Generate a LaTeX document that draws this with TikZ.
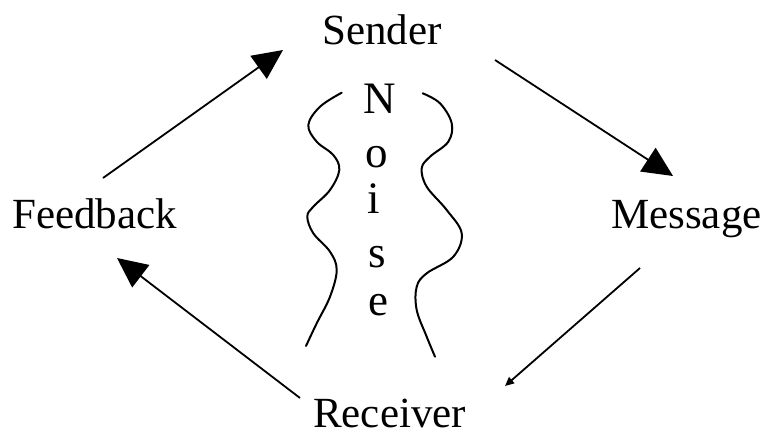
\documentclass[tikz,border=0pt]{standalone}
\usepackage{fontspec}
\setmainfont{Liberation Serif}
\usetikzlibrary{arrows.meta}
\begin{document}
\begin{tikzpicture}[x=1pt,y=-1pt,
  lbl/.style={inner sep=0pt,anchor=base west,font=\fontsize{43}{50}\selectfont},
  nz/.style={inner sep=0pt,anchor=base,font=\fontsize{45}{50}\selectfont},
  arr/.style={line width=1.8pt,-{Triangle[length=30pt,width=28pt]}},
  smallarr/.style={line width=1.8pt,-{Triangle[length=9pt,width=8pt]}},
  wave/.style={line width=2pt,line cap=round}]
\useasboundingbox[fill=white] (0,0) rectangle (770,437);
% labels
\node[lbl] (sender) at (322,44) {Sender};
\node[lbl] (feedback) at (12,228) {Feedback};
\node[lbl] (message) at (611,228) {Message};
\node[lbl] (receiver) at (313,427) {Receiver};
% noise column
\node[nz] (n1) at (380,113) {N};
\node[nz] (n2) at (377,167) {o};
\node[nz] (n3) at (374,213) {i};
\node[nz] (n4) at (377,267) {s};
\node[nz] (n5) at (378,315) {e};
% connector end points
\coordinate (fb-out) at (103,178);
\coordinate (snd-in) at (283,50);
\coordinate (snd-out) at (495,60);
\coordinate (msg-in) at (673,176);
\coordinate (msg-out) at (640,268);
\coordinate (rcv-in) at (505,386);
\coordinate (rcv-out) at (300,398);
\coordinate (fb-in) at (117,258);
\draw[arr] (fb-out) -- (snd-in);
\draw[arr] (snd-out) -- (msg-in);
\draw[smallarr] (msg-out) -- (rcv-in);
\draw[arr] (rcv-out) -- (fb-in);
% wavy noise boundaries
\draw[wave] plot[smooth,tension=0.6] coordinates {(341.7,92.7) (320,106.7) (308.3,125) (316.7,141.7) (333.3,155) (339.3,170) (330,190) (313.3,206.7) (307.3,216.7) (313.3,233.3) (330,251.7) (336.7,270) (330,296.7) (316.7,323.3) (306,346)};
\draw[wave] plot[smooth,tension=0.6] coordinates {(422.7,93.3) (440,103.3) (451.7,123.3) (448.3,141.7) (430,156.7) (421.7,168.3) (426.7,186.7) (446.7,210) (461.7,233.3) (453.3,256.7) (426.7,273.3) (416.7,286.7) (416.7,310) (426.7,336.7) (435,356.7)};
\end{tikzpicture}
\end{document}
